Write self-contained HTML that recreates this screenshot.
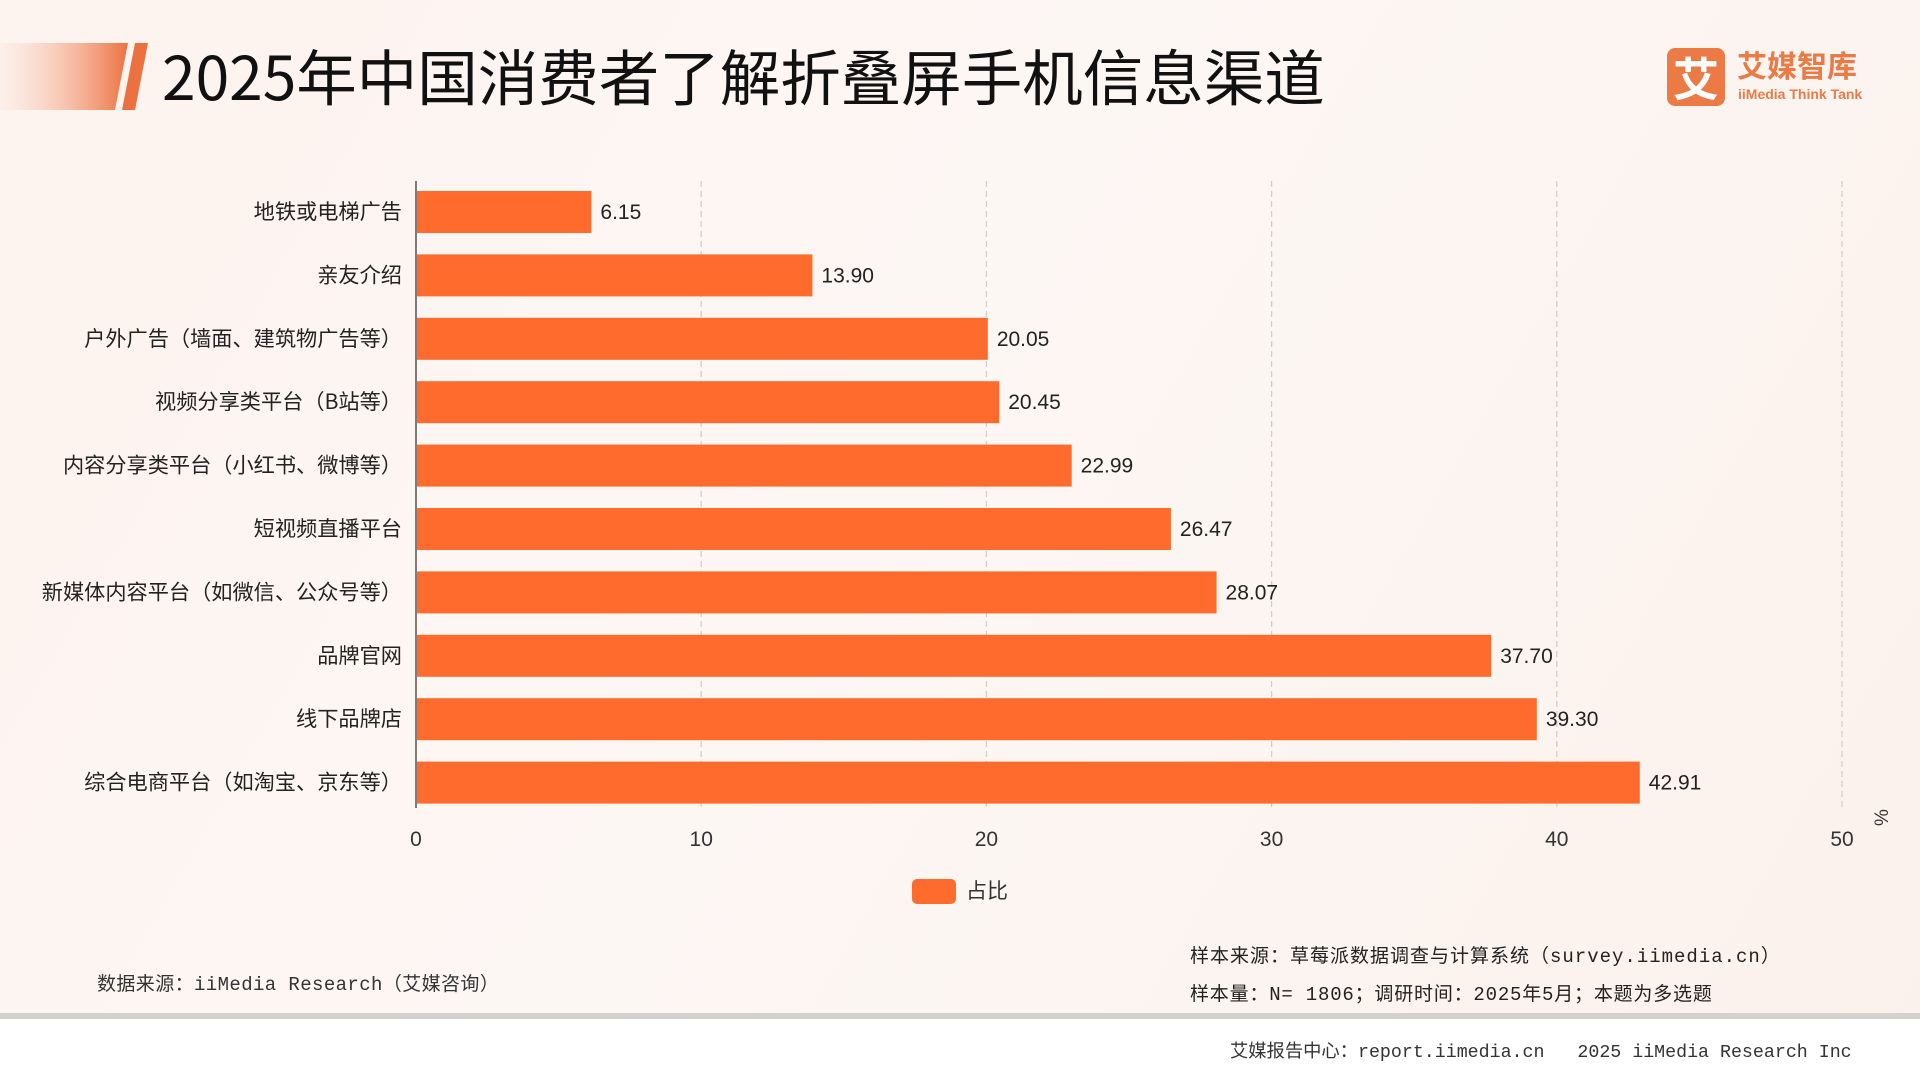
<!DOCTYPE html>
<html><head><meta charset="utf-8">
<style>
body{margin:0;width:1920px;height:1080px;overflow:hidden;font-family:"Liberation Sans","Noto Sans CJK SC",sans-serif;}
#page{position:relative;width:1920px;height:1080px;background:linear-gradient(120deg,#fdf3ef 0%,#fdf7f4 45%,#fbf1ec 100%);}
.abs{position:absolute;}
</style></head><body>
<div id="page">
<svg class="abs" style="left:0;top:0" width="160" height="120">
<defs><linearGradient id="g" x1="0" x2="1"><stop offset="0" stop-color="#fbe6dc" stop-opacity="0.3"/><stop offset="1" stop-color="#ec7140"/></linearGradient></defs>
<polygon points="0,43 128,43 115,110 0,110" fill="url(#g)"/>
<polygon points="135,43 148,43 135,110 122,110" fill="#ec7140"/>
</svg>
<div class="abs" style="left:162px;top:37px;font-size:60.5px;line-height:76px;color:#111;font-family:'Noto Sans CJK SC',sans-serif;white-space:nowrap">2025年中国消费者了解折叠屏手机信息渠道</div>
<div class="abs" style="left:1667px;top:48px;width:58px;height:58px;background:#eb7a45;border-radius:8px;color:#fff;font-size:46px;line-height:58px;text-align:center;font-family:'Noto Sans CJK SC',sans-serif;font-weight:bold">艾</div>
<div class="abs" style="left:1737px;top:46px;font-size:30px;line-height:36px;color:#eb7a45;font-weight:bold;font-family:'Noto Sans CJK SC',sans-serif">艾媒智库</div>
<div class="abs" style="left:1738px;top:86px;font-size:14px;color:#eb7a45;font-weight:bold">iiMedia Think Tank</div>
<svg id="chart" class="abs" style="left:0;top:0" width="1920" height="1080"></svg>
<div class="abs" style="left:97px;top:969px;font-size:19px;letter-spacing:0.4px;color:#333;font-family:'Liberation Mono','Noto Sans CJK SC',monospace">数据来源：iiMedia Research（艾媒咨询）</div>
<div class="abs" style="left:1190px;top:941px;font-size:19px;letter-spacing:1px;color:#222;font-family:'Liberation Mono','Noto Sans CJK SC',monospace">样本来源：草莓派数据调查与计算系统（survey.iimedia.cn）</div>
<div class="abs" style="left:1190px;top:979px;font-size:19px;letter-spacing:0.8px;color:#222;font-family:'Liberation Mono','Noto Sans CJK SC',monospace">样本量：N= 1806；调研时间：2025年5月；本题为多选题</div>
<div class="abs" style="left:0;top:1013px;width:1920px;height:6px;background:#d4d0ce"></div>
<div class="abs" style="left:0;top:1019px;width:1920px;height:61px;background:#fff"></div>
<div class="abs" style="left:1230px;top:1037px;font-size:18.3px;color:#333;font-family:'Liberation Mono','Noto Sans CJK SC',monospace;white-space:nowrap">艾媒报告中心：report.iimedia.cn&nbsp;&nbsp;&nbsp;2025 iiMedia Research Inc</div>
</div>
<script>
const categories=["地铁或电梯广告","亲友介绍","户外广告（墙面、建筑物广告等）","视频分享类平台（B站等）","内容分享类平台（小红书、微博等）","短视频直播平台","新媒体内容平台（如微信、公众号等）","品牌官网","线下品牌店","综合电商平台（如淘宝、京东等）"];
const values=[6.15,13.90,20.05,20.45,22.99,26.47,28.07,37.70,39.30,42.91];
const ticks=[0,10,20,30,40,50];
const seriesName="占比";
const NS="http://www.w3.org/2000/svg";
const svg=document.getElementById('chart');
const x0=416,x1=1842,yTop=181,yBot=808,band=63.4,bh=42,firstC=212;
const xs=v=>x0+(v-0)/(50-0)*(x1-x0);
const yc=i=>firstC+i*band;
function mk(t,a){const e=document.createElementNS(NS,t);for(const k in a)e.setAttribute(k,a[k]);svg.appendChild(e);return e;}
ticks.forEach(t=>{
 if(t>0){const g=mk('line',{x1:xs(t),x2:xs(t),y1:yTop,y2:yBot,stroke:'#cfcfcf','stroke-dasharray':'6,4','stroke-width':1.3});
 
 }
 const l=mk('text',{x:xs(t),y:846,'text-anchor':'middle','font-size':21,fill:'#333'});l.textContent=t;
 
 
});
const ax=mk('line',{x1:x0,x2:x0,y1:yTop,y2:yBot,stroke:'#555','stroke-width':1.5});


categories.forEach((c,i)=>{
 const r=mk('rect',{x:x0+1,y:yc(i)-bh/2,width:xs(values[i])-x0-1,height:bh,fill:'#ff6b2c'});
 
 
 const v=mk('text',{x:xs(values[i])+9,y:yc(i)+7,'font-size':21,fill:'#222'});v.textContent=values[i].toFixed(2);
 
 
 const lb=mk('text',{x:402,y:yc(i)+7,'text-anchor':'end','font-size':21.2,fill:'#222','font-family':'Noto Sans CJK SC, sans-serif'});lb.textContent=c;
 
 
});
const pc=mk('text',{x:0,y:0,'font-size':19,fill:'#333',transform:'translate(1888,826) rotate(-90)'});pc.textContent='%';


const lr=mk('rect',{x:912,y:879,width:44,height:25,rx:5,fill:'#ff6b2c'});


const lt=mk('text',{x:966,y:898,'font-size':21,fill:'#333','font-family':'Noto Sans CJK SC, sans-serif'});lt.textContent=seriesName;


</script>
</body></html>
